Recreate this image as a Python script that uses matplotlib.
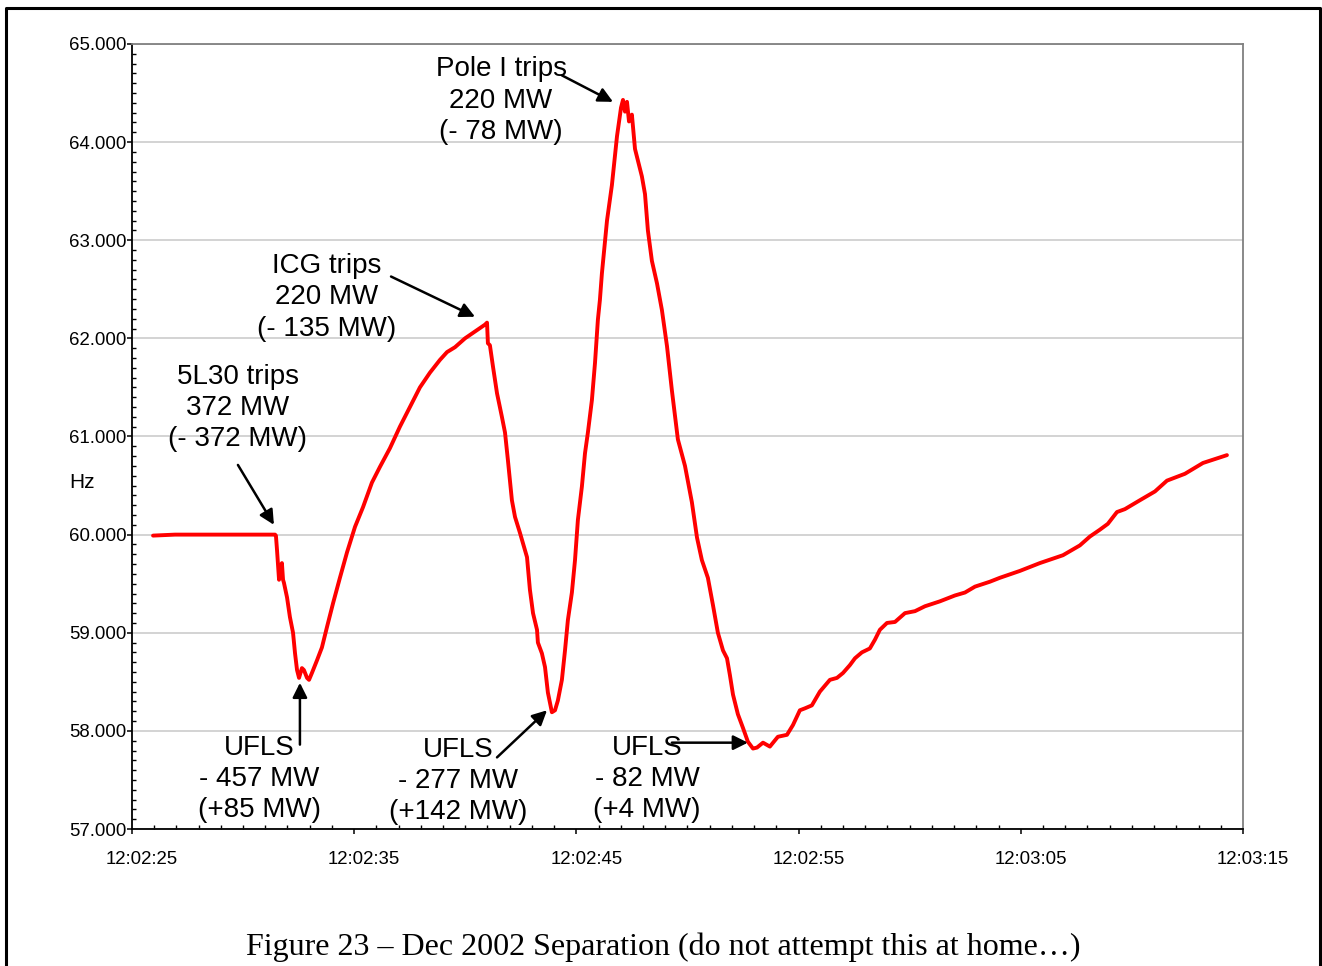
import numpy as np
import matplotlib
matplotlib.use('Agg')
import matplotlib.pyplot as plt
import matplotlib.ticker as mticker
import matplotlib.transforms as mtrans
from matplotlib.lines import Line2D

# seconds after 12:02:00 and system frequency (Hz)
seconds = [25.95, 26.94, 31.44, 31.48, 31.53, 31.62, 31.71, 31.75, 31.80, 31.84,
           31.98, 32.11, 32.25, 32.34, 32.43, 32.52, 32.65, 32.74, 32.88, 32.97,
           33.10, 33.33, 33.55, 33.78, 34.05, 34.36, 34.68, 35.04, 35.40, 35.80,
           36.16, 36.61, 37.06, 37.51, 37.96, 38.41, 38.86, 39.18, 39.54, 39.99,
           40.44, 40.89, 40.98, 41.02, 41.11, 41.25, 41.43, 41.65, 41.79, 41.92,
           42.10, 42.24, 42.46, 42.78, 42.91, 43.05, 43.23, 43.27, 43.45, 43.59,
           43.72, 43.90, 44.04, 44.17, 44.35, 44.49, 44.62, 44.80, 44.94, 45.07,
           45.25, 45.39, 45.52, 45.70, 45.84, 45.97, 46.06, 46.15, 46.38, 46.60,
           46.83, 47.01, 47.10, 47.19, 47.28, 47.37, 47.50, 47.64, 47.95, 48.09,
           48.22, 48.40, 48.63, 48.85, 49.08, 49.30, 49.57, 49.89, 50.20, 50.43,
           50.65, 50.92, 51.15, 51.37, 51.60, 51.78, 51.91, 52.05, 52.27, 52.50,
           52.72, 52.95, 53.13, 53.40, 53.71, 54.07, 54.48, 54.75, 55.06, 55.29,
           55.60, 55.96, 56.41, 56.73, 57.00, 57.31, 57.54, 57.85, 58.21, 58.44,
           58.66, 58.98, 59.34, 59.79, 60.24, 60.69, 61.36, 62.04, 62.49, 62.94,
           63.61, 64.06, 64.96, 65.86, 66.90, 67.66, 68.11, 68.56, 68.92, 69.33,
           69.69, 70.36, 71.04, 71.58, 72.39, 73.20, 73.74, 74.28]
hz = [59.99, 60.00, 60.00, 59.99, 59.84, 59.54, 59.69, 59.71, 59.54, 59.51,
      59.36, 59.16, 59.00, 58.79, 58.62, 58.54, 58.64, 58.62, 58.54, 58.52,
      58.59, 58.72, 58.85, 59.06, 59.30, 59.56, 59.82, 60.08, 60.28, 60.53,
      60.69, 60.88, 61.10, 61.30, 61.50, 61.65, 61.78, 61.86, 61.91, 62.00,
      62.07, 62.14, 62.16, 61.95, 61.93, 61.71, 61.44, 61.20, 61.04, 60.76,
      60.35, 60.18, 60.02, 59.77, 59.44, 59.20, 59.03, 58.90, 58.79, 58.65,
      58.39, 58.19, 58.21, 58.31, 58.52, 58.82, 59.13, 59.41, 59.74, 60.15,
      60.49, 60.83, 61.04, 61.37, 61.75, 62.19, 62.39, 62.66, 63.20, 63.56,
      64.06, 64.35, 64.43, 64.31, 64.41, 64.21, 64.28, 63.93, 63.65, 63.47,
      63.10, 62.79, 62.56, 62.29, 61.92, 61.47, 60.97, 60.70, 60.33, 59.97,
      59.74, 59.56, 59.28, 59.00, 58.82, 58.74, 58.57, 58.37, 58.17, 58.03,
      57.89, 57.82, 57.83, 57.88, 57.84, 57.94, 57.96, 58.06, 58.21, 58.23,
      58.26, 58.40, 58.52, 58.54, 58.59, 58.67, 58.74, 58.80, 58.84, 58.93,
      59.03, 59.10, 59.11, 59.20, 59.22, 59.27, 59.32, 59.38, 59.41, 59.47,
      59.52, 59.56, 59.63, 59.71, 59.79, 59.89, 59.98, 60.05, 60.11, 60.23,
      60.26, 60.35, 60.44, 60.55, 60.62, 60.73, 60.77, 60.81]

tick_secs = [25, 35, 45, 55, 65, 75]
tick_labels = ['12:02:25', '12:02:35', '12:02:45', '12:02:55', '12:03:05', '12:03:15']

note_texts = ['Pole I trips\n220 MW\n(- 78 MW)',
              'ICG trips\n220 MW\n(- 135 MW)',
              '5L30 trips\n372 MW\n(- 372 MW)',
              'UFLS\n- 457 MW\n(+85 MW)',
              'UFLS\n- 277 MW\n(+142 MW)',
              'UFLS\n- 82 MW\n(+4 MW)']

caption = 'Figure 23 \u2013 Dec 2002 Separation (do not attempt this at home\u2026)'

plt.rcParams['font.family'] = ['Liberation Sans', 'DejaVu Sans']

fig = plt.figure(figsize=(13.22, 9.66), dpi=100)
ax = fig.add_axes([0.0998, 0.1418, 0.8404, 0.8127])

ax.plot(seconds, hz, color='red', lw=2.8, solid_joinstyle='round',
        solid_capstyle='round', zorder=3)

ax.set_xlim(25, 75)
ax.set_ylim(57, 65)
ax.set_xticks(tick_secs)
ax.set_xticklabels(tick_labels)
ax.xaxis.set_minor_locator(mticker.MultipleLocator(1))
ax.yaxis.set_major_locator(mticker.MultipleLocator(1))
ax.yaxis.set_minor_locator(mticker.MultipleLocator(0.1))
ax.yaxis.set_major_formatter(mticker.FormatStrFormatter('%.3f'))

ax.grid(axis='y', which='major', color='#c8c8c8', lw=1.1)
ax.set_axisbelow(True)
for s in ['left', 'bottom']:
    ax.spines[s].set_color('black')
    ax.spines[s].set_linewidth(1.3)
for s in ['top', 'right']:
    ax.spines[s].set_color('#808080')
    ax.spines[s].set_linewidth(1.3)

ax.tick_params(which='major', direction='out', length=3.6, width=1.1, labelsize=13.4)
ax.tick_params(which='minor', direction='in', length=3, width=1)
ax.tick_params(axis='x', which='major', pad=12)
ax.tick_params(axis='y', which='major', pad=0.3)

# excel puts the time labels a little right of their ticks
shift = mtrans.ScaledTranslation(0.10, 0, fig.dpi_scale_trans)
for lbl in ax.get_xticklabels():
    lbl.set_transform(lbl.get_transform() + shift)

ax.text(-0.045, 0.442, 'Hz', transform=ax.transAxes, ha='center', va='center', fontsize=15)

# text centres and arrows (start, tip)
text_pos = [(41.61, 64.42), (33.78, 62.42), (29.77, 61.29),
            (30.72, 57.51), (39.67, 57.49), (48.18, 57.51)]
arrows = [((44.35, 64.68), (46.65, 64.41)),
          ((36.66, 62.63), (40.44, 62.22)),
          ((29.77, 60.71), (31.39, 60.10)),
          ((32.56, 57.86), (32.56, 58.49)),
          ((41.43, 57.73), (43.68, 58.21)),
          ((49.30, 57.88), (52.72, 57.88))]

for txt, pos in zip(note_texts, text_pos):
    ax.text(pos[0], pos[1], txt, ha='center', va='center', fontsize=20,
            linespacing=1.27, zorder=5, clip_on=False)
for start, tip in arrows:
    ax.annotate('', xy=tip, xytext=start,
                arrowprops=dict(arrowstyle='-|>', color='black', lw=1.8,
                                mutation_scale=22, shrinkA=0, shrinkB=0),
                zorder=6, annotation_clip=False)

fig.text(0.5017, 0.0197, caption, ha='center', va='center',
         family=['Liberation Serif', 'DejaVu Serif'], fontsize=23)

# outer frame of the page figure (bottom edge is cut off)
fx = [5.5 / 1322, 5.5 / 1322, 1319.5 / 1322, 1319.5 / 1322]
fy = [0, 1 - 7.5 / 966, 1 - 7.5 / 966, 0]
fig.add_artist(Line2D(fx, fy, transform=fig.transFigure, color='black', lw=2.2))

fig.savefig('out.png', dpi=100)
